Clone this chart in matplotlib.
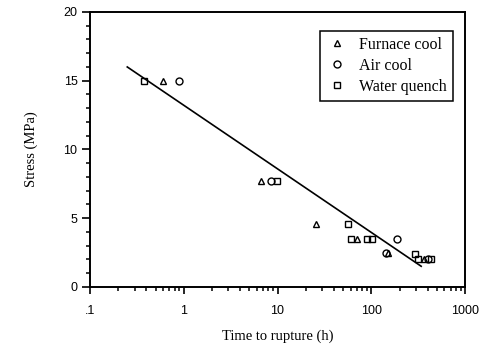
import numpy as np
import matplotlib.pyplot as plt
from matplotlib.ticker import FixedLocator, FixedFormatter, LogLocator, MultipleLocator

# data
furnace_t = [0.6, 6.7, 26, 71, 150, 364]
furnace_s = [15.0, 7.7, 4.6, 3.5, 2.5, 2.0]

air_t = [0.9, 8.6, 145, 186, 400]
air_s = [15.0, 7.7, 2.5, 3.5, 2.0]

water_t = [0.38, 9.8, 56, 60, 91, 102, 295, 312, 435]
water_s = [15.0, 7.7, 4.6, 3.5, 3.5, 3.5, 2.4, 2.0, 2.0]

fit_t = [0.25, 340]
fit_s = [16.0, 1.5]

xticks = [0.1, 1, 10, 100, 1000]
xtick_labels = ['.1', '1', '10', '100', '1000']
yticks = [0, 5, 10, 15, 20]

fig = plt.figure(figsize=(4.81, 3.52), dpi=100)
ax = fig.add_axes([0.187, 0.185, 0.78, 0.781])

mk = dict(linestyle='none', mfc='none', mec='black', markersize=5, mew=1.0)
ax.plot(furnace_t, furnace_s, marker='^', label='Furnace cool', **mk)
ax.plot(air_t, air_s, marker='o', label='Air cool', **mk)
ax.plot(water_t, water_s, marker='s', label='Water quench', **mk)
ax.plot(fit_t, fit_s, color='black', linewidth=1.2)

ax.set_xscale('log')
ax.set_xlim(0.1, 1000)
ax.set_ylim(0, 20)
ax.xaxis.set_major_locator(FixedLocator(xticks))
ax.xaxis.set_major_formatter(FixedFormatter(xtick_labels))
ax.xaxis.set_minor_locator(LogLocator(base=10, subs=np.arange(2, 10)))
ax.xaxis.set_minor_formatter(FixedFormatter([]))
ax.yaxis.set_major_locator(FixedLocator(yticks))
ax.yaxis.set_minor_locator(MultipleLocator(1))

for s in ax.spines.values():
    s.set_linewidth(1.4)

ax.tick_params(axis='x', which='major', direction='out', length=5, width=1.2,
               labelsize=9, pad=8)
ax.tick_params(axis='x', which='minor', direction='out', length=3, width=1.1)
ax.tick_params(axis='y', which='major', direction='out', length=6, width=1.2,
               labelsize=9, pad=3)
ax.tick_params(axis='y', which='minor', direction='out', length=3, width=1.1)
for lab in ax.get_xticklabels() + ax.get_yticklabels():
    lab.set_fontfamily('Liberation Sans')

ax.set_xlabel('Time to rupture (h)', fontfamily='Liberation Serif', fontsize=10.5, labelpad=9)
ax.set_ylabel('Stress (MPa)', fontfamily='Liberation Serif', fontsize=10.5, labelpad=18)

leg = ax.legend(loc='upper right', bbox_to_anchor=(0.967, 0.932), borderaxespad=0,
                fancybox=False, edgecolor='black', framealpha=1, borderpad=0.4,
                handletextpad=0.7, labelspacing=0.3, handlelength=1.3,
                prop={'family': 'Liberation Serif', 'size': 11.5})
leg.get_frame().set_linewidth(1.1)

fig.savefig('out.png', dpi=100)
